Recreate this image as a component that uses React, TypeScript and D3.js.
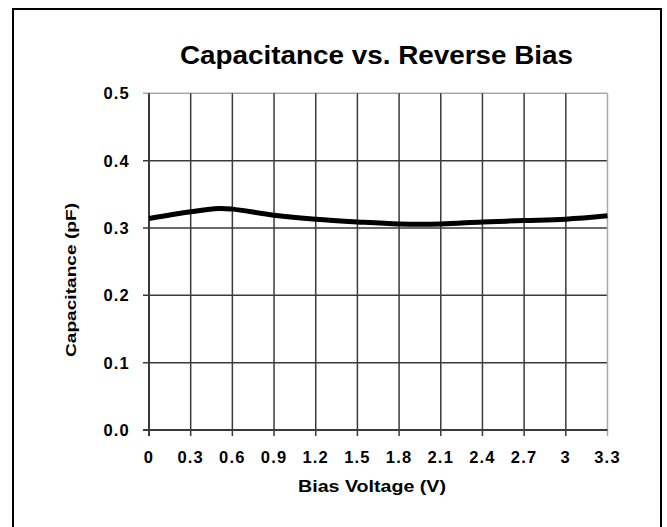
import React from "react";
import * as d3 from "d3";

const biasVoltage = [0, 0.3, 0.5, 0.6, 0.9, 1.2, 1.5, 1.8, 2.1, 2.4, 2.7, 3.0, 3.3];
const capacitance = [0.314, 0.324, 0.329, 0.328, 0.319, 0.313, 0.309, 0.306, 0.306, 0.309, 0.311, 0.313, 0.318];
const xTicks = [0, 0.3, 0.6, 0.9, 1.2, 1.5, 1.8, 2.1, 2.4, 2.7, 3.0, 3.3];
const xTickLabels = ["0", "0.3", "0.6", "0.9", "1.2", "1.5", "1.8", "2.1", "2.4", "2.7", "3", "3.3"];
const yTicks = [0, 0.1, 0.2, 0.3, 0.4, 0.5];
const yTickLabels = ["0.0", "0.1", "0.2", "0.3", "0.4", "0.5"];

const title = "Capacitance vs. Reverse Bias";
const xTitle = "Bias Voltage (V)";
const yTitle = "Capacitance  (pF)";

export default function App() {
  const W = 667, H = 527;
  const left = 149, right = 607.5, top = 93.3, bottom = 430;
  const x = d3.scaleLinear().domain([0, 3.3]).range([left, right]);
  const y = d3.scaleLinear().domain([0, 0.5]).range([bottom, top]);
  const pts: [number, number][] = biasVoltage.map((v, i) => [v, capacitance[i]]);
  const line = d3
    .line<[number, number]>()
    .x((d) => x(d[0]))
    .y((d) => y(d[1]))
    .curve(d3.curveCatmullRom.alpha(0.5));
  const font = "'Liberation Sans', Arial, sans-serif";
  const grid = "#3a3a3a";
  return (
    <svg
      width={W}
      height={H}
      style={{ position: "absolute", left: 0, top: 0, background: "#fff" }}
    >
      <rect x={13} y={9} width={648} height={530} fill="#fff" stroke="#000" strokeWidth={2} />
      <text
        x={376.5}
        y={64}
        textAnchor="middle"
        fontFamily={font}
        fontWeight="bold"
        fontSize={26.5}
        textLength={393}
        lengthAdjust="spacingAndGlyphs"
      >
        {title}
      </text>
      {yTicks.map((t, i) => (
        <g key={"y" + i}>
          <line
            x1={left - 6}
            x2={right}
            y1={y(t)}
            y2={y(t)}
            stroke={t === 0.5 ? "#a8a8a8" : grid}
            strokeWidth={t === 0 ? 2 : 1.5}
          />
          <text
            x={130}
            y={y(t)}
            dy="0.36em"
            textAnchor="end"
            fontFamily={font}
            fontWeight="bold"
            fontSize={16.5}
            letterSpacing={1.2}
          >
            {yTickLabels[i]}
          </text>
        </g>
      ))}
      {xTicks.map((t, i) => (
        <g key={"x" + i}>
          <line
            x1={x(t)}
            x2={x(t)}
            y1={top}
            y2={bottom + 6}
            stroke={i === xTicks.length - 1 ? "#a8a8a8" : grid}
            strokeWidth={i === 0 ? 2 : 1.5}
          />
          <text
            x={x(t)}
            y={463}
            textAnchor="middle"
            fontFamily={font}
            fontWeight="bold"
            fontSize={16.5}
            letterSpacing={1.2}
          >
            {xTickLabels[i]}
          </text>
        </g>
      ))}
      <line x1={left - 6} x2={right} y1={bottom} y2={bottom} stroke={grid} strokeWidth={2} />
      <path d={line(pts) || ""} fill="none" stroke="#000" strokeWidth={5} strokeLinecap="butt" />
      <text
        x={372}
        y={492}
        textAnchor="middle"
        fontFamily={font}
        fontWeight="bold"
        fontSize={16.5}
        textLength={148}
        lengthAdjust="spacingAndGlyphs"
      >
        {xTitle}
      </text>
      <text
        transform={`translate(76,280) rotate(-90)`}
        textAnchor="middle"
        fontFamily={font}
        fontWeight="bold"
        fontSize={15.5}
        textLength={154}
        lengthAdjust="spacingAndGlyphs"
      >
        {yTitle}
      </text>
    </svg>
  );
}
